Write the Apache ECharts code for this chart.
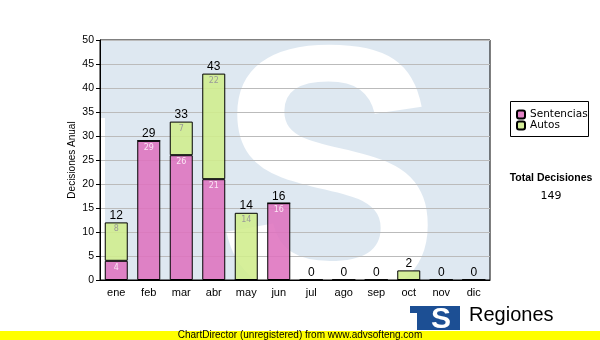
<!DOCTYPE html>
<html>
<head>
<meta charset="utf-8">
<script src="https://cdn.jsdelivr.net/npm/echarts@6/dist/echarts.min.js"></script>
<style>html,body{margin:0;padding:0;background:#fff}#c{width:600px;height:340px}</style>
</head>
<body>
<div id="c"></div>
<script>
const categories = ['ene','feb','mar','abr','may','jun','jul','ago','sep','oct','nov','dic'];
const sentencias = [4,29,26,21,0,16,0,0,0,0,0,0];
const autos = [8,0,7,22,14,0,0,0,0,2,0,0];
const totals = [12,29,33,43,14,16,0,0,0,2,0,0];
const totalZeros = [0,0,0,0,0,0,0,0,0,0,0,0];
const yMin = 0, yMax = 50, yStep = 5;
const totalDecisiones = 149;

const G = {left:100, top:40, width:390, height:240};

function makeWatermark(w, h) {
  const c = document.createElement('canvas');
  c.width = w; c.height = h;
  const ctx = c.getContext('2d');
  ctx.fillStyle = 'rgb(222,232,241)';
  ctx.fillRect(0, 0, w, h);
  ctx.globalCompositeOperation = 'destination-out';
  ctx.fillStyle = '#000';
  ctx.fillRect(0, 78, 5, h);
  ctx.font = 'bold 300px "Liberation Sans"';
  const m = ctx.measureText('S');
  const gw = m.actualBoundingBoxLeft + m.actualBoundingBoxRight;
  const gh = m.actualBoundingBoxAscent + m.actualBoundingBoxDescent;
  const tx = 122, ty = 3, tw = 210, th = 259;
  ctx.save();
  ctx.translate(tx, ty);
  ctx.scale(tw / gw, th / gh);
  ctx.fillText('S', m.actualBoundingBoxLeft, m.actualBoundingBoxAscent);
  ctx.restore();
  return c;
}
const wm = makeWatermark(G.width, G.height);

const chart = echarts.init(document.getElementById('c'), null, {renderer:'canvas'});
const txt = (o) => Object.assign({fill:'#000'}, o);
const innerFmt = p => (p.value >= 3 ? String(p.value) : '');

chart.setOption({
  animation: false,
  textStyle: {fontFamily: 'Liberation Sans'},
  grid: {left: G.left, top: G.top, width: G.width, height: G.height, show: true,
         borderColor: '#000', borderWidth: 1, backgroundColor: 'transparent'},
  legend: {
    data: ['Sentencias', 'Autos'], orient: 'vertical', left: 516, top: 109,
    itemWidth: 8, itemHeight: 8, itemGap: 0, padding: 0,
    textStyle: {fontFamily: 'DejaVu Sans', fontSize: 10.5, color: '#000', lineHeight: 11}
  },
  xAxis: {
    type: 'category', data: categories,
    axisLine: {lineStyle: {color: '#000', width: 1}},
    axisTick: {alignWithLabel: true, length: 4, lineStyle: {color: '#000'}},
    axisLabel: {color: '#000', fontSize: 11, fontFamily: 'Liberation Sans', margin: 7}
  },
  yAxis: {
    type: 'value', min: yMin, max: yMax, interval: yStep,
    name: 'Decisiones Anual', nameLocation: 'middle', nameGap: 23, nameMoveOverlap: false,
    nameTextStyle: {color: '#000', fontSize: 10, fontFamily: 'Liberation Sans'},
    axisLine: {show: true, lineStyle: {color: '#000', width: 1}},
    axisTick: {show: true, length: 4, lineStyle: {color: '#000'}},
    axisLabel: {color: '#000', fontSize: 10.5, fontFamily: 'Liberation Sans', margin: 6},
    splitLine: {lineStyle: {color: '#bbbbbb', width: 1}}
  },
  series: [
    {name: 'Sentencias', type: 'bar', stack: 't', data: sentencias, barWidth: 23,
     itemStyle: {color: 'rgba(222,114,190,0.88)', borderColor: '#000', borderWidth: 1},
     label: {show: true, position: 'insideTop', distance: 3, color: '#fbe6f4', fontSize: 8,
             fontFamily: 'DejaVu Sans', formatter: innerFmt}},
    {name: 'Autos', type: 'bar', stack: 't', data: autos, barWidth: 23,
     itemStyle: {color: 'rgba(208,237,140,0.88)', borderColor: '#000', borderWidth: 1},
     label: {show: true, position: 'insideTop', distance: 3, color: '#9a9a9a', fontSize: 8,
             fontFamily: 'DejaVu Sans', formatter: innerFmt}},
    {name: 'Total', type: 'bar', stack: 't', data: totalZeros, barWidth: 23,
     itemStyle: {color: 'rgba(0,0,0,0)', borderWidth: 0},
     label: {show: true, position: 'top', distance: 1, color: '#000', fontSize: 12,
             fontFamily: 'Liberation Sans', formatter: p => String(totals[p.dataIndex])}}
  ],
  graphic: [
    {type: 'image', left: G.left, top: G.top, z: -1, silent: true,
     style: {image: wm, width: G.width, height: G.height}},
    {type: 'rect', left: 510, top: 101, z: 1, silent: true,
     shape: {width: 78, height: 35}, style: {fill: '#fff', stroke: '#000', lineWidth: 1}},
    {type: 'text', x: 551, y: 178, silent: true,
     style: txt({text: 'Total Decisiones', font: 'bold 10.5px "Liberation Sans"', align: 'center', verticalAlign: 'middle', textAlign: 'center', textVerticalAlign: 'middle'})},
    {type: 'text', x: 551, y: 196, silent: true,
     style: txt({text: String(totalDecisiones), font: '11px "DejaVu Sans"', align: 'center', verticalAlign: 'middle', textAlign: 'center', textVerticalAlign: 'middle'})},
    {type: 'rect', left: 410, top: 306, silent: true, shape: {width: 50, height: 24}, style: {fill: '#1c4f94'}},
    {type: 'rect', left: 410, top: 313, silent: true, shape: {width: 7, height: 17}, style: {fill: '#fff'}},
    {type: 'text', x: 441, y: 320, silent: true,
     style: txt({text: 'S', fill: '#fff', font: 'bold 30px "Liberation Sans"', align: 'center', verticalAlign: 'middle', textAlign: 'center', textVerticalAlign: 'middle'})},
    {type: 'text', x: 469, y: 315, silent: true,
     style: txt({text: 'Regiones', font: '20px "Liberation Sans"', align: 'left', verticalAlign: 'middle', textAlign: 'left', textVerticalAlign: 'middle'})},
    {type: 'rect', left: 0, top: 331, silent: true, shape: {width: 600, height: 9}, style: {fill: '#ffff00'}},
    {type: 'text', x: 300, y: 335.5, silent: true,
     style: txt({text: 'ChartDirector (unregistered) from www.advsofteng.com', font: '10px "Liberation Sans"', align: 'center', verticalAlign: 'middle', textAlign: 'center', textVerticalAlign: 'middle'})}
  ]
});
</script>
</body>
</html>
